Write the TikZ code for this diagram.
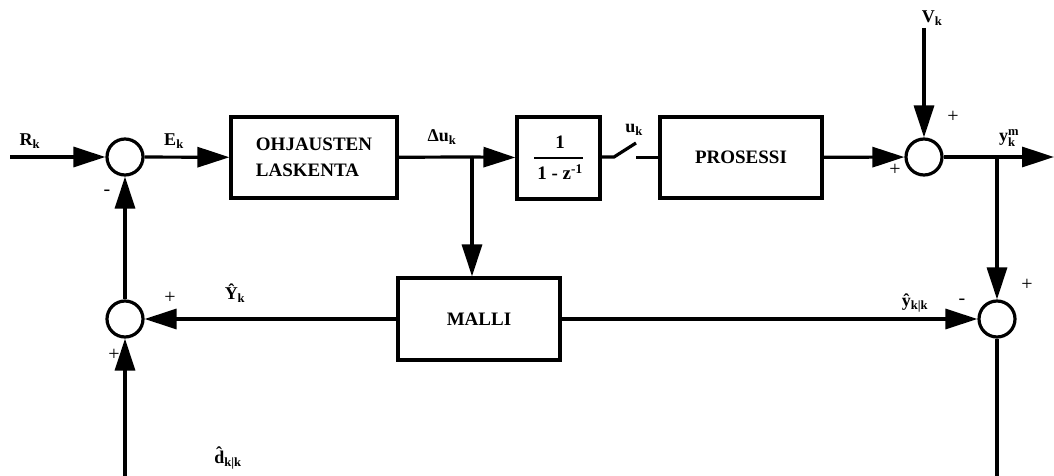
\documentclass[tikz,border=0pt]{standalone}
\usepackage{amsmath}
\usepackage{fontspec}
\setmainfont{Liberation Serif}
\usetikzlibrary{arrows.meta}
\begin{document}
\begin{tikzpicture}[x=1pt,y=-1pt,line width=3.2pt,
  blk/.style={draw,line width=3.2pt,inner sep=0pt,font=\bfseries\fontsize{19}{26}\selectfont},
  sumc/.style={circle,draw,line width=3.2pt,minimum size=36pt,inner sep=0pt},
  arr/.style={-{Triangle[length=32pt,width=20pt]}},
  lbl/.style={font=\bfseries\fontsize{18}{20}\selectfont,inner sep=0pt},
  sgn/.style={font=\fontsize{20}{22}\selectfont,inner sep=0pt}]
\useasboundingbox (0,0) rectangle (1054,476);
% blocks
\node[blk,minimum width=166pt,minimum height=81pt,align=left] (ohj) at (314,157.5) {OHJAUSTEN\\LASKENTA};
\node[blk,minimum width=83pt,minimum height=82pt] (frac) at (558.5,158)
  {\setlength{\arrayrulewidth}{1.6pt}\renewcommand{\arraystretch}{1.15}\begin{tabular}{@{\,}c@{}}1\\\hline 1 - z\textsuperscript{-1}\end{tabular}};
\node[blk,minimum width=162pt,minimum height=81pt] (pro) at (741,157.5) {PROSESSI};
\node[blk,minimum width=162pt,minimum height=82pt] (malli) at (479,319) {MALLI};
% summing junctions
\node[sumc] (s1) at (125,157) {};
\node[sumc] (s2) at (924,157) {};
\node[sumc] (s3) at (997,319) {};
\node[sumc] (s4) at (125,319) {};
% coordinates
\coordinate (rin) at (10,157);
\coordinate (yout) at (1054,157);
\coordinate (vtop) at (924,28);
\coordinate (b1) at (472,157);
\coordinate (b2) at (997,157);
\coordinate (d4) at (125,476);
\coordinate (e3) at (997,476);
\coordinate (sw1) at (614,157);
\coordinate (sw2) at (636,143);
\coordinate (sw3) at (636,157.5);
% connectors
\draw[arr] (rin) -- (s1);
\draw[arr] (s1) -- (ohj);
\draw (ohj) -- (b1);
\draw[arr] (b1) -- (frac);
\draw[arr] (b1) -- (b1 |- malli.north);
\draw (frac.east |- sw1) -- (sw1) -- (sw2);
\draw (sw3) -- (pro);
\draw[arr] (pro) -- (s2);
\draw[arr] (vtop) -- (s2);
\draw[arr] (s2) -- (yout);
\draw[arr] (b2) -- (s3);
\draw[arr] (malli) -- (s3);
\draw[arr] (malli) -- (s4);
\draw[arr] (d4) -- (s4);
\draw[arr] (s4) -- (s1);
\draw (s3) -- (e3);
% labels
\node[lbl] (lR) at (30,141) {R\textsubscript{k}};
\node[lbl] (lE) at (174,141) {E\textsubscript{k}};
\node[lbl] (lDu) at (442,137) {Δu\textsubscript{k}};
\node[lbl] (lu) at (634,130) {u\textsubscript{k}};
\node[lbl] (lV) at (932,18) {V\textsubscript{k}};
\node[lbl] (ly) at (1009,138) {y$^{\text{m}}_{\text{k}}$};
\node[lbl] (lyh) at (915,303) {\^{y}\textsubscript{k|k}};
\node[lbl] (lYh) at (235,293) {\^{Y}\textsubscript{k}};
\node[lbl] (ldh) at (228,458) {\^{d}\textsubscript{k|k}};
% signs
\node[sgn] (m1) at (107,193) {-};
\node[sgn] (p4a) at (170,298) {+};
\node[sgn] (p4b) at (114,355) {+};
\node[sgn] (p2a) at (953,117) {+};
\node[sgn] (p2b) at (895,170) {+};
\node[sgn] (p3a) at (1027,285) {+};
\node[sgn] (m3) at (962,302) {-};
\end{tikzpicture}
\end{document}
